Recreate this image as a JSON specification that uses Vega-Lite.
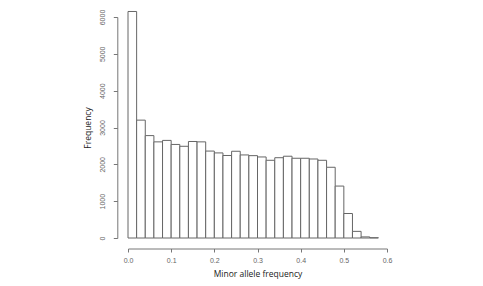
{
  "$schema": "https://vega.github.io/schema/vega-lite/v6.json",
  "width": 259,
  "height": 221,
  "autosize": {"type": "none"},
  "padding": {"left": 128, "top": 17, "right": 96, "bottom": 48},
  "background": "white",
  "config": {"view": {"stroke": null}},
  "data": {
    "values": [
      {"bin_start": 0.00, "bin_end": 0.02, "count": 6150},
      {"bin_start": 0.02, "bin_end": 0.04, "count": 3200},
      {"bin_start": 0.04, "bin_end": 0.06, "count": 2780},
      {"bin_start": 0.06, "bin_end": 0.08, "count": 2610},
      {"bin_start": 0.08, "bin_end": 0.10, "count": 2650},
      {"bin_start": 0.10, "bin_end": 0.12, "count": 2540},
      {"bin_start": 0.12, "bin_end": 0.14, "count": 2490},
      {"bin_start": 0.14, "bin_end": 0.16, "count": 2620},
      {"bin_start": 0.16, "bin_end": 0.18, "count": 2610},
      {"bin_start": 0.18, "bin_end": 0.20, "count": 2360},
      {"bin_start": 0.20, "bin_end": 0.22, "count": 2310},
      {"bin_start": 0.22, "bin_end": 0.24, "count": 2240},
      {"bin_start": 0.24, "bin_end": 0.26, "count": 2355},
      {"bin_start": 0.26, "bin_end": 0.28, "count": 2255},
      {"bin_start": 0.28, "bin_end": 0.30, "count": 2236},
      {"bin_start": 0.30, "bin_end": 0.32, "count": 2200},
      {"bin_start": 0.32, "bin_end": 0.34, "count": 2110},
      {"bin_start": 0.34, "bin_end": 0.36, "count": 2180},
      {"bin_start": 0.36, "bin_end": 0.38, "count": 2220},
      {"bin_start": 0.38, "bin_end": 0.40, "count": 2165},
      {"bin_start": 0.40, "bin_end": 0.42, "count": 2165},
      {"bin_start": 0.42, "bin_end": 0.44, "count": 2145},
      {"bin_start": 0.44, "bin_end": 0.46, "count": 2110},
      {"bin_start": 0.46, "bin_end": 0.48, "count": 1920},
      {"bin_start": 0.48, "bin_end": 0.50, "count": 1410},
      {"bin_start": 0.50, "bin_end": 0.52, "count": 665},
      {"bin_start": 0.52, "bin_end": 0.54, "count": 180},
      {"bin_start": 0.54, "bin_end": 0.56, "count": 30},
      {"bin_start": 0.56, "bin_end": 0.58, "count": 8}
    ]
  },
  "mark": {"type": "rect", "fill": "white", "stroke": "#666666", "strokeWidth": 1},
  "encoding": {
    "x": {
      "field": "bin_start",
      "type": "quantitative",
      "scale": {"domain": [0, 0.6], "nice": false, "zero": false},
      "axis": {
        "title": "Minor allele frequency",
        "values": [0, 0.1, 0.2, 0.3, 0.4, 0.5, 0.6],
        "format": ".1f",
        "grid": false,
        "offset": 10.5,
        "domainColor": "#777777",
        "tickColor": "#777777",
        "tickSize": 3.5,
        "labelPadding": 4,
        "labelFont": "Liberation Sans",
        "labelFontSize": 7,
        "labelColor": "#666666",
        "labelFlush": false,
        "titleFont": "Open Sans",
        "titleFontSize": 8.5,
        "titleFontWeight": "normal",
        "titleColor": "#222222",
        "titlePadding": 6
      }
    },
    "x2": {"field": "bin_end"},
    "y": {
      "field": "count",
      "type": "quantitative",
      "scale": {"domain": [0, 6000], "nice": false, "clamp": false},
      "axis": {
        "title": "Frequency",
        "values": [0, 1000, 2000, 3000, 4000, 5000, 6000],
        "format": "d",
        "grid": false,
        "offset": 10.7,
        "domainColor": "#777777",
        "tickColor": "#777777",
        "tickSize": 4,
        "labelAngle": 270,
        "labelAlign": "center",
        "labelBaseline": "bottom",
        "labelPadding": 8,
        "labelFont": "Liberation Sans",
        "labelFontSize": 7,
        "labelColor": "#666666",
        "labelFlush": false,
        "titleFont": "Open Sans",
        "titleFontSize": 8.5,
        "titleFontWeight": "normal",
        "titleColor": "#222222",
        "titlePadding": 6
      }
    },
    "y2": {"datum": 0}
  }
}
